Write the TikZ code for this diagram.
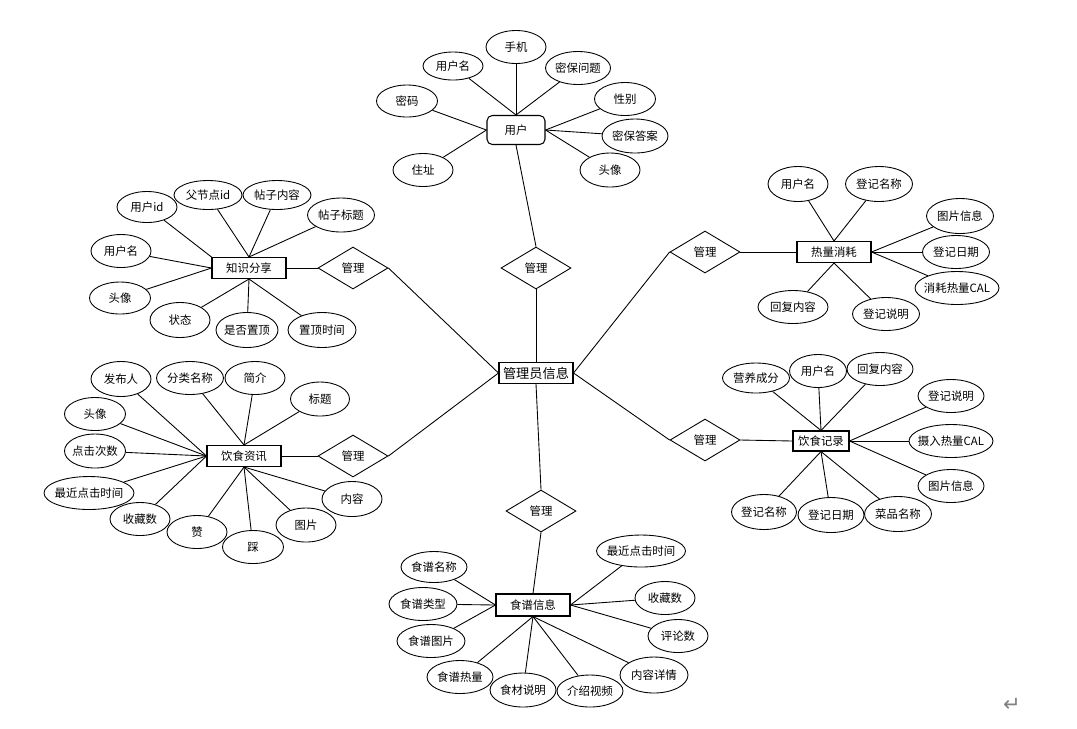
\documentclass[tikz,border=0pt]{standalone}
\usepackage{fontspec}
\newfontfamily\cjk{Noto Sans CJK SC}
\newfontfamily\symb{DejaVu Sans}
\usetikzlibrary{shapes.geometric}
\begin{document}
\begin{tikzpicture}[x=0.02cm, y=-0.02cm]
    % Styles
    \tikzstyle{entity} = [rectangle, draw, line width=0.6pt, fill=white,
        font=\cjk\fontsize{6.5}{7}\selectfont, minimum width=1.48cm, minimum height=0.42cm, inner sep=0pt]
    \tikzstyle{attr} = [ellipse, draw, line width=0.5pt, fill=white,
        font=\cjk\fontsize{6.5}{7}\selectfont, minimum width=1.2cm, minimum height=0.66cm, inner xsep=-2pt, inner ysep=0pt]
    \tikzstyle{relation} = [diamond, draw, line width=0.5pt, fill=white,
        font=\cjk\fontsize{6.5}{7}\selectfont, minimum width=1.4cm, minimum height=0.84cm, inner sep=0pt]
    \tikzstyle{line} = [line width=0.5pt]

    \useasboundingbox (0,0) rectangle (1077,728);

    % === CENTRE: Admin ===
    \node [entity, font=\cjk\fontsize{7.5}{8}\selectfont] (admin) at (536,373) {管理员信息};

    % === ENTITIES ===
    \node [entity, rounded corners=3pt, minimum width=1.16cm, minimum height=0.58cm] (user) at (516,130) {用户};
    \node [entity] (know) at (249,268) {知识分享};
    \node [entity] (news) at (244,456) {饮食资讯};
    \node [entity] (heat) at (834,252) {热量消耗};
    \node [entity, minimum width=1.12cm, minimum height=0.4cm] (record) at (821,441) {饮食记录};
    \node [entity, minimum height=0.44cm] (recipe) at (533,605) {食谱信息};

    % === RELATIONS ===
    \node [relation] (reluser) at (536,268) {管理};
    \node [relation] (relknow) at (353,268) {管理};
    \node [relation] (relnews) at (353,456) {管理};
    \node [relation] (relheat) at (705,252) {管理};
    \node [relation] (relrecord) at (705,440) {管理};
    \node [relation] (relrecipe) at (541,511) {管理};

    % === ATTRIBUTES: User ===
    \node [attr, minimum height=0.56cm] (uname) at (453,66) {用户名};
    \node [attr] (uphone) at (516,47) {手机};
    \node [attr, minimum width=1.3cm] (uquestion) at (578,68) {密保问题};
    \node [attr, minimum width=1.22cm, minimum height=0.64cm] (upass) at (407,101) {密码};
    \node [attr, minimum width=1.22cm] (usex) at (625,99) {性别};
    \node [attr, minimum width=1.32cm, minimum height=0.68cm] (uanswer) at (635,136) {密保答案};
    \node [attr] (uaddr) at (423,170) {住址};
    \node [attr, minimum height=0.68cm] (uavatar) at (610,170) {头像};

    % === ATTRIBUTES: Knowledge Share ===
    \node [attr, minimum height=0.62cm] (kuid) at (147,207) {用户id};
    \node [attr, minimum width=1.36cm, minimum height=0.58cm] (kpid) at (208,195) {父节点id};
    \node [attr, minimum width=1.36cm, minimum height=0.58cm] (kcontent) at (277,195) {帖子内容};
    \node [attr, minimum width=1.34cm, minimum height=0.68cm] (ktitle) at (341,215) {帖子标题};
    \node [attr] (kname) at (121,251) {用户名};
    \node [attr, minimum width=1.22cm, minimum height=0.64cm] (kavatar) at (120,298) {头像};
    \node [attr, minimum height=0.7cm] (kstate) at (180,320) {状态};
    \node [attr, minimum width=1.24cm, minimum height=0.7cm] (ktop) at (247,330) {是否置顶};
    \node [attr, minimum width=1.36cm, minimum height=0.7cm] (ktoptime) at (322,330) {置顶时间};

    % === ATTRIBUTES: Diet News ===
    \node [attr, minimum height=0.7cm] (npub) at (121,379) {发布人};
    \node [attr, minimum width=1.34cm] (ncat) at (190,378) {分类名称};
    \node [attr] (nintro) at (255,378) {简介};
    \node [attr, minimum width=1.18cm, minimum height=0.68cm] (ntitle) at (320,399) {标题};
    \node [attr, minimum width=1.22cm] (navatar) at (95,414) {头像};
    \node [attr, minimum width=1.22cm, minimum height=0.68cm] (nclicks) at (95,451) {点击次数};
    \node [attr, minimum width=1.8cm] (nlast) at (89,493) {最近点击时间};
    \node [attr] (nfav) at (140,519) {收藏数};
    \node [attr] (nlike) at (197,532) {赞};
    \node [attr, minimum width=1.22cm] (ndislike) at (253,547) {踩};
    \node [attr, minimum height=0.68cm] (npic) at (306,525) {图片};
    \node [attr, minimum height=0.7cm] (ncontent) at (352,499) {内容};

    % === ATTRIBUTES: Heat Consumption ===
    \node [attr, minimum height=0.7cm] (hname) at (798,184) {用户名};
    \node [attr, minimum width=1.34cm, minimum height=0.7cm] (hreg) at (879,184) {登记名称};
    \node [attr, minimum width=1.34cm, minimum height=0.7cm] (hpic) at (960,216) {图片信息};
    \node [attr, minimum width=1.34cm] (hdate) at (956,252) {登记日期};
    \node [attr, minimum width=1.68cm] (hcal) at (957,288) {消耗热量CAL};
    \node [attr, minimum width=1.4cm] (hreply) at (793,307) {回复内容};
    \node [attr, minimum width=1.34cm] (hnote) at (886,314) {登记说明};

    % === ATTRIBUTES: Diet Record ===
    \node [attr, minimum width=1.34cm, minimum height=0.6cm] (rnutri) at (756,378) {营养成分};
    \node [attr, minimum width=1.32cm] (rreply) at (880,369) {回复内容};
    \node [attr, minimum width=1.14cm] (rname) at (818,371) {用户名};
    \node [attr, minimum width=1.32cm] (rnote) at (951,396) {登记说明};
    \node [attr, minimum width=1.68cm] (rcal) at (951,441) {摄入热量CAL};
    \node [attr, minimum width=1.32cm] (rpic) at (951,486) {图片信息};
    \node [attr, minimum width=1.3cm, minimum height=0.7cm] (rreg) at (764,512) {登记名称};
    \node [attr, minimum width=1.34cm, minimum height=0.7cm] (rdish) at (898,514) {菜品名称};
    \node [attr, minimum width=1.32cm, minimum height=0.7cm] (rdate) at (831,515) {登记日期};

    % === ATTRIBUTES: Recipe ===
    \node [attr, minimum width=1.78cm, minimum height=0.64cm] (clast) at (641,551) {最近点击时间};
    \node [attr, minimum width=1.32cm, minimum height=0.62cm] (cname) at (434,567) {食谱名称};
    \node [attr] (cfav) at (665,598) {收藏数};
    \node [attr, minimum width=1.36cm] (ctype) at (423,604) {食谱类型};
    \node [attr, minimum width=1.36cm] (cpic) at (431,641) {食谱图片};
    \node [attr] (ccomm) at (678,636) {评论数};
    \node [attr, minimum width=1.32cm] (cheat) at (460,677) {食谱热量};
    \node [attr, minimum width=1.36cm, minimum height=0.72cm] (cdetail) at (654,675) {内容详情};
    \node [attr, minimum width=1.32cm, minimum height=0.64cm] (cvideo) at (590,691) {介绍视频};
    \node [attr, minimum width=1.32cm, minimum height=0.68cm] (cfood) at (523,690) {食材说明};

    % paragraph mark
    \node [font=\symb\fontsize{12}{12}\selectfont, text=gray] (mark) at (1012,705) {↵};

    % === LINES: Relations ===
    \draw [line] (admin.north) -- (reluser.south);
    \draw [line] (reluser.north) -- (user.south);
    \draw [line] (know.east) -- (relknow.west);
    \draw [line] (relknow.east) -- (admin.west);
    \draw [line] (news.east) -- (relnews.west);
    \draw [line] (relnews.east) -- (admin.west);
    \draw [line] (admin.east) -- (relheat.west);
    \draw [line] (relheat.east) -- (heat.west);
    \draw [line] (admin.east) -- (relrecord.west);
    \draw [line] (relrecord.east) -- (record.west);
    \draw [line] (admin.south) -- (relrecipe.north);
    \draw [line] (relrecipe.south) -- (recipe.north);

    % === LINES: User ===
    \draw [line] (user.north) -- (uname);
    \draw [line] (user.north) -- (uphone);
    \draw [line] (user.north) -- (uquestion);
    \draw [line] (user.west) -- (upass);
    \draw [line] (user.west) -- (uaddr);
    \draw [line] (user.east) -- (usex);
    \draw [line] (user.east) -- (uanswer);
    \draw [line] (user.east) -- (uavatar);

    % === LINES: Knowledge Share ===
    \draw [line] (know.north west) -- (kuid);
    \draw [line] (know.north) -- (kpid);
    \draw [line] (know.north) -- (kcontent);
    \draw [line] (know.north) -- (ktitle);
    \draw [line] (know.west) -- (kname);
    \draw [line] (know.west) -- (kavatar);
    \draw [line] (know.south) -- (kstate);
    \draw [line] (know.south) -- (ktop);
    \draw [line] (know.south) -- (ktoptime);

    % === LINES: Diet News ===
    \draw [line] (news.west) -- (npub);
    \draw [line] (news.north) -- (ncat);
    \draw [line] (news.north) -- (nintro);
    \draw [line] (news.north) -- (ntitle);
    \draw [line] (news.west) -- (navatar);
    \draw [line] (news.west) -- (nclicks);
    \draw [line] (news.west) -- (nlast);
    \draw [line] (news.west) -- (nfav);
    \draw [line] (news.south) -- (nlike);
    \draw [line] (news.south) -- (ndislike);
    \draw [line] (news.south) -- (npic);
    \draw [line] (news.south) -- (ncontent);

    % === LINES: Heat Consumption ===
    \draw [line] (heat.north) -- (hname);
    \draw [line] (heat.north) -- (hreg);
    \draw [line] (heat.east) -- (hpic);
    \draw [line] (heat.east) -- (hdate);
    \draw [line] (heat.east) -- (hcal);
    \draw [line] (heat.south) -- (hreply);
    \draw [line] (heat.south) -- (hnote);

    % === LINES: Diet Record ===
    \draw [line] (record.north) -- (rnutri);
    \draw [line] (record.north) -- (rname);
    \draw [line] (record.north) -- (rreply);
    \draw [line] (record.east) -- (rnote);
    \draw [line] (record.east) -- (rcal);
    \draw [line] (record.east) -- (rpic);
    \draw [line] (record.south) -- (rreg);
    \draw [line] (record.south) -- (rdate);
    \draw [line] (record.south) -- (rdish);

    % === LINES: Recipe ===
    \draw [line] (recipe.east) -- (clast);
    \draw [line] (recipe.east) -- (cfav);
    \draw [line] (recipe.east) -- (ccomm);
    \draw [line] (recipe.west) -- (cname);
    \draw [line] (recipe.west) -- (ctype);
    \draw [line] (recipe.west) -- (cpic);
    \draw [line] (recipe.south) -- (cheat);
    \draw [line] (recipe.south) -- (cfood);
    \draw [line] (recipe.south) -- (cvideo);
    \draw [line] (recipe.south) -- (cdetail);
\end{tikzpicture}
\end{document}
